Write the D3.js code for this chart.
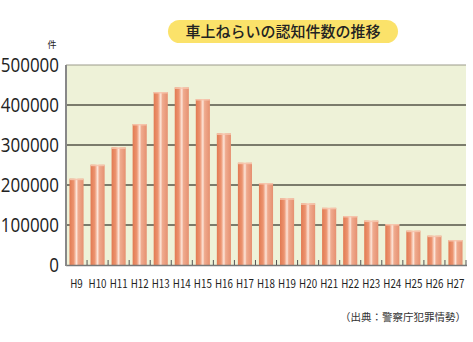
<!DOCTYPE html>
<html><head><meta charset="utf-8">
<script src="https://cdn.jsdelivr.net/npm/d3@7"></script>
<style>body{margin:0;background:#fff;}svg{display:block;}</style>
</head><body>
<script>
const categories = ["H9","H10","H11","H12","H13","H14","H15","H16","H17","H18","H19","H20","H21","H22","H23","H24","H25","H26","H27"];
const values = [215800,250700,294000,352500,432500,444000,415000,329000,255700,205000,166700,154000,143000,122500,111000,102500,85800,73300,62500];
const yTicks = [0,100000,200000,300000,400000,500000];
const title = "車上ねらいの認知件数の推移";
const unitLabel = "件";
const source = "（出典：警察庁犯罪情勢）";

const W = 473, H = 342;
const svg = d3.select("body").append("svg").attr("width", W).attr("height", H);
const defs = svg.append("defs");
const g1 = defs.append("linearGradient").attr("id","barg").attr("x1","0").attr("x2","1").attr("y1","0").attr("y2","0");
[[0,"#e27a52"],[0.3,"#ec9470"],[0.5,"#fde6da"],[0.62,"#efab8f"],[1,"#e69070"]].forEach(([o,c])=>g1.append("stop").attr("offset",o).attr("stop-color",c));

const x = d3.scaleBand().domain(categories).range([66,466]).paddingInner(0.33).paddingOuter(0.165);
const y = d3.scaleLinear().domain([0,500000]).range([265,65]);

// plot background
svg.append("rect").attr("x",66).attr("y",65).attr("width",400).attr("height",200).attr("fill","#eef2d8");

// gridlines
svg.append("g").selectAll("line").data(yTicks.filter(d=>d>0)).join("line")
  .attr("x1",66).attr("x2",466).attr("y1",d=>y(d)).attr("y2",d=>y(d))
  .attr("stroke",d=>d===500000?"#9a9a8a":"#555548").attr("stroke-width",d=>d===500000?1:1.6);

// bars
const bars = svg.append("g").selectAll("g").data(values).join("g");
bars.append("rect").attr("x",(d,i)=>x(categories[i])).attr("y",d=>y(d))
  .attr("width",x.bandwidth()).attr("height",d=>265-y(d)).attr("fill","url(#barg)");
bars.append("rect").attr("x",(d,i)=>x(categories[i])).attr("y",d=>y(d))
  .attr("width",x.bandwidth()).attr("height",1.5).attr("fill","#f6c6ae").attr("opacity",0.9);

// bottom axis
const xAxis = svg.append("g");
xAxis.append("line").attr("x1",66).attr("x2",467).attr("y1",265.5).attr("y2",265.5).attr("stroke","#777").attr("stroke-width",1.5);
xAxis.selectAll("line.tk").data(d3.range(1,categories.length+1)).join("line").attr("class","tk")
  .attr("x1",d=>66+d*(400/categories.length)).attr("x2",d=>66+d*(400/categories.length))
  .attr("y1",265).attr("y2",260).attr("stroke","#555").attr("stroke-width",1);
xAxis.selectAll("text").data(categories).join("text")
  .attr("x",d=>x(d)+x.bandwidth()/2).attr("y",288)
  .attr("text-anchor","middle").attr("font-family","'Noto Sans CJK JP','Noto Sans',sans-serif")
  .attr("font-size",11.5).attr("fill","#222").attr("transform",d=>`translate(${x(d)+x.bandwidth()/2},0) scale(0.85,1) translate(${-(x(d)+x.bandwidth()/2)},0)`)
  .text(d=>d);

// left axis
svg.append("line").attr("x1",66).attr("x2",66).attr("y1",65).attr("y2",266).attr("stroke","#888").attr("stroke-width",2);
svg.append("g").selectAll("text").data(yTicks).join("text")
  .attr("x",0).attr("y",0).attr("text-anchor","end")
  .attr("transform",d=>`translate(59,${y(d)+7}) scale(0.87,1)`)
  .attr("font-family","'Open Sans','Noto Sans',sans-serif").attr("font-size",19.5).attr("fill","#222")
  .text(d=>d);
svg.append("text").attr("x",52).attr("y",47.5).attr("text-anchor","middle")
  .attr("font-family","'Noto Sans CJK JP',sans-serif").attr("font-size",9).attr("fill","#222").text(unitLabel);

// title
svg.append("rect").attr("x",168).attr("y",20).attr("width",230).attr("height",23).attr("rx",11.5).attr("fill","#fbe26a");
svg.append("text").attr("x",283).attr("y",37).attr("text-anchor","middle")
  .attr("font-family","'Noto Sans CJK JP',sans-serif").attr("font-size",15).attr("font-weight",500).attr("fill","#222").text(title);

// source
svg.append("text").attr("x",466).attr("y",321).attr("text-anchor","end")
  .attr("font-family","'Noto Sans CJK JP',sans-serif").attr("font-size",10.5).attr("fill","#333").text(source);
</script>
</body></html>
